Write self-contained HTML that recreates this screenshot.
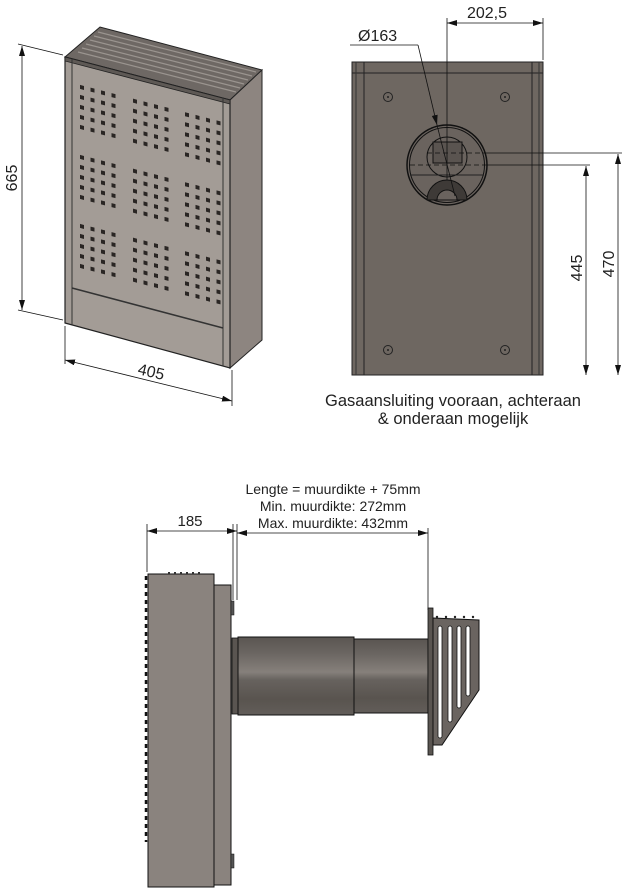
<!DOCTYPE html>
<html><head><style>
html,body{margin:0;padding:0;background:#fff;}
svg{display:block;font-family:"Liberation Sans",sans-serif;}
</style></head><body>
<svg width="629" height="892" viewBox="0 0 629 892" xmlns="http://www.w3.org/2000/svg">
<defs>
<marker id="ar" markerWidth="10" markerHeight="6" refX="10" refY="3" orient="auto-start-reverse" markerUnits="userSpaceOnUse"><path d="M0,0 L10,3 L0,6 z" fill="#111"/></marker>
<g id="hg">
<g id="hr"><rect x="0" y="0" width="4" height="4"/><rect x="10.5" y="0" width="4" height="4"/><rect x="21" y="0" width="4" height="4"/><rect x="31.5" y="0" width="4" height="4"/></g>
<use href="#hr" y="10"/><use href="#hr" y="20"/><use href="#hr" y="30"/><use href="#hr" y="40"/>
</g>
<linearGradient id="pipe" x1="0" y1="0" x2="0" y2="1">
<stop offset="0" stop-color="#5a5551"/><stop offset="0.2" stop-color="#6a6561"/><stop offset="0.45" stop-color="#86807b"/><stop offset="0.55" stop-color="#67625e"/><stop offset="0.8" stop-color="#59544f"/><stop offset="1" stop-color="#625d59"/>
</linearGradient>
</defs>

<!-- ISO VIEW -->
<polygon points="65,57 100,27 262,70 230,100" fill="#6e6864" stroke="#222" stroke-width="1"/>
<g stroke="#9a948f" stroke-width="1.2">
<line x1="78" y1="52" x2="236" y2="92"/><line x1="82" y1="48" x2="240" y2="88"/><line x1="86" y1="44" x2="244" y2="84"/><line x1="90" y1="40" x2="248" y2="80"/><line x1="94" y1="36" x2="252" y2="76"/><line x1="98" y1="32" x2="256" y2="72"/>
</g>
<polygon points="230,100 262,70 262,340 230,368" fill="#8d8580" stroke="#222" stroke-width="1"/>
<polygon points="65,57 230,100 230,368 65,323" fill="#a39c96" stroke="#222" stroke-width="1.2"/>
<polygon points="65,57 230,100 230,104 65,61" fill="#5e5955" stroke="#222" stroke-width="0.8"/>
<line x1="72" y1="59" x2="72" y2="325" stroke="#333" stroke-width="1"/>
<line x1="223" y1="98" x2="223" y2="366" stroke="#333" stroke-width="1"/>
<line x1="72" y1="288" x2="223" y2="328" stroke="#333" stroke-width="1.5"/>
<g transform="translate(65,57) matrix(1,0.26,0,1,0,0)" fill="#2a2624">
<use href="#hg" x="15" y="24"/><use href="#hg" x="68" y="24"/><use href="#hg" x="120" y="24"/>
<use href="#hg" x="15" y="94"/><use href="#hg" x="68" y="94"/><use href="#hg" x="120" y="94"/>
<use href="#hg" x="15" y="163"/><use href="#hg" x="68" y="163"/><use href="#hg" x="120" y="163"/>
</g>
<g stroke="#111" stroke-width="0.8" fill="none">
<line x1="18" y1="44" x2="63" y2="55"/><line x1="18" y1="310" x2="63" y2="320"/>
<line x1="22" y1="46" x2="22" y2="310" marker-start="url(#ar)" marker-end="url(#ar)"/>
<line x1="65" y1="326" x2="65" y2="364"/><line x1="232" y1="370" x2="232" y2="406"/>
<line x1="65" y1="360" x2="232" y2="401" marker-start="url(#ar)" marker-end="url(#ar)"/>
</g>
<text x="0" y="0" font-size="16" fill="#222" text-anchor="middle" transform="translate(17,178) rotate(-90)">665</text>
<text x="0" y="0" font-size="16" fill="#222" text-anchor="middle" transform="translate(150,377) rotate(13)">405</text>

<!-- BACK VIEW -->
<rect x="352" y="62" width="191" height="313" fill="#6e6761" stroke="#222" stroke-width="1"/>
<line x1="364" y1="62" x2="364" y2="375" stroke="#222"/><line x1="532" y1="62" x2="532" y2="375" stroke="#222"/>
<line x1="352" y1="73" x2="543" y2="73" stroke="#222"/><line x1="356" y1="62" x2="356" y2="375" stroke="#333"/><line x1="539" y1="62" x2="539" y2="375" stroke="#333"/>
<g fill="none" stroke="#222"><circle cx="388" cy="97" r="4.5"/><circle cx="505" cy="97" r="4.5"/><circle cx="388" cy="350" r="4.5"/><circle cx="505" cy="350" r="4.5"/></g>
<g fill="#222"><circle cx="388" cy="97" r="1"/><circle cx="505" cy="97" r="1"/><circle cx="388" cy="350" r="1"/><circle cx="505" cy="350" r="1"/></g>
<circle cx="447" cy="165" r="40" fill="#6a635e" stroke="#111" stroke-width="1.5"/>
<circle cx="447" cy="165" r="37.5" fill="none" stroke="#111" stroke-width="1"/>
<circle cx="447" cy="157" r="20" fill="none" stroke="#111" stroke-width="1"/>
<rect x="433" y="142" width="29" height="21" fill="#5a5450" stroke="#111"/>
<path d="M427,200 A20,20 0 0 1 467,200 Z" fill="#3e3a37" stroke="#111"/>
<path d="M437,200 A10,10 0 0 1 457,200 Z" fill="#6a635e" stroke="#111"/>
<line x1="410" y1="175" x2="484" y2="175" stroke="#222"/>
<g stroke="#111" stroke-width="0.8" fill="none">
<line x1="427" y1="153" x2="486" y2="153" stroke-dasharray="5,3"/>
<line x1="486" y1="153" x2="622" y2="153"/>
<line x1="410" y1="165" x2="487" y2="165" stroke-dasharray="5,3"/>
<line x1="487" y1="165" x2="590" y2="165"/>
<line x1="447" y1="18" x2="447" y2="180"/><line x1="543" y1="18" x2="543" y2="60"/>
<line x1="447" y1="23" x2="543" y2="23" marker-start="url(#ar)" marker-end="url(#ar)"/>
<line x1="350" y1="45" x2="418" y2="45"/><line x1="418" y1="45" x2="437" y2="125" marker-end="url(#ar)"/><line x1="437" y1="125" x2="455" y2="196"/>
<line x1="586" y1="166" x2="586" y2="375" marker-start="url(#ar)" marker-end="url(#ar)"/>
<line x1="618" y1="154" x2="618" y2="375" marker-start="url(#ar)" marker-end="url(#ar)"/>
</g>
<text x="487" y="18" font-size="16" fill="#222" text-anchor="middle">202,5</text>
<text x="358" y="41" font-size="16" fill="#222">Ø163</text>
<text font-size="16" fill="#222" text-anchor="middle" transform="translate(582,268) rotate(-90)">445</text>
<text font-size="16" fill="#222" text-anchor="middle" transform="translate(614,264) rotate(-90)">470</text>
<text x="453" y="406" font-size="16.5" fill="#222" text-anchor="middle">Gasaansluiting vooraan, achteraan</text>
<text x="453" y="424" font-size="16.5" fill="#222" text-anchor="middle">&amp; onderaan mogelijk</text>

<!-- SIDE VIEW -->
<text x="333" y="494" font-size="14" fill="#222" text-anchor="middle">Lengte = muurdikte + 75mm</text>
<text x="333" y="511" font-size="14" fill="#222" text-anchor="middle">Min. muurdikte: 272mm</text>
<text x="333" y="528" font-size="14" fill="#222" text-anchor="middle">Max. muurdikte: 432mm</text>
<text x="190" y="526" font-size="15" fill="#222" text-anchor="middle">185</text>
<g stroke="#111" stroke-width="0.8" fill="none">
<line x1="147" y1="524" x2="147" y2="572"/><line x1="237" y1="524" x2="237" y2="600"/><line x1="233" y1="524" x2="233" y2="600"/>
<line x1="147" y1="531" x2="237" y2="531" marker-start="url(#ar)" marker-end="url(#ar)"/>
<line x1="237" y1="533" x2="428" y2="533" marker-start="url(#ar)" marker-end="url(#ar)"/>
<line x1="428" y1="528" x2="428" y2="610"/>
</g>
<rect x="148" y="574" width="66" height="313" fill="#8a837e" stroke="#111" stroke-width="1"/>
<line x1="146" y1="576" x2="146" y2="842" stroke="#111" stroke-width="2.5" stroke-dasharray="4,4"/>
<g fill="#333"><rect x="168" y="572" width="2" height="2"/><rect x="174" y="572" width="2" height="2"/><rect x="180" y="572" width="2" height="2"/><rect x="186" y="572" width="2" height="2"/><rect x="192" y="572" width="2" height="2"/><rect x="198" y="572" width="2" height="2"/></g>
<rect x="214" y="585" width="17" height="300" fill="#8a837e" stroke="#111" stroke-width="1"/>
<rect x="231" y="601" width="3" height="14" fill="#555" stroke="#111" stroke-width="0.5"/>
<rect x="231" y="854" width="3" height="14" fill="#555" stroke="#111" stroke-width="0.5"/>
<rect x="232" y="638" width="8" height="76" fill="#5a5551" stroke="#111" stroke-width="0.8"/>
<rect x="238" y="637" width="116" height="78" fill="url(#pipe)" stroke="#111" stroke-width="1"/>
<rect x="354" y="639" width="74" height="74" fill="url(#pipe)" stroke="#111" stroke-width="1"/>
<rect x="428" y="608" width="5" height="147" fill="#5a5551" stroke="#111" stroke-width="0.8"/>
<polygon points="433,618 479,620 479,690 442,745 433,745" fill="#6a6460" stroke="#111" stroke-width="1"/>
<g fill="#fff" stroke="#111" stroke-width="0.8">
<rect x="438" y="626" width="4" height="112" rx="2"/>
<rect x="448" y="626" width="4" height="96" rx="2"/>
<rect x="457" y="626" width="4" height="82" rx="2"/>
<rect x="466" y="626" width="4" height="70" rx="2"/>
</g>
<g fill="#222"><circle cx="437" cy="617" r="1.2"/><circle cx="446" cy="617" r="1.2"/><circle cx="455" cy="617" r="1.2"/><circle cx="464" cy="617" r="1.2"/><circle cx="473" cy="617" r="1.2"/></g>
</svg>
</body></html>
